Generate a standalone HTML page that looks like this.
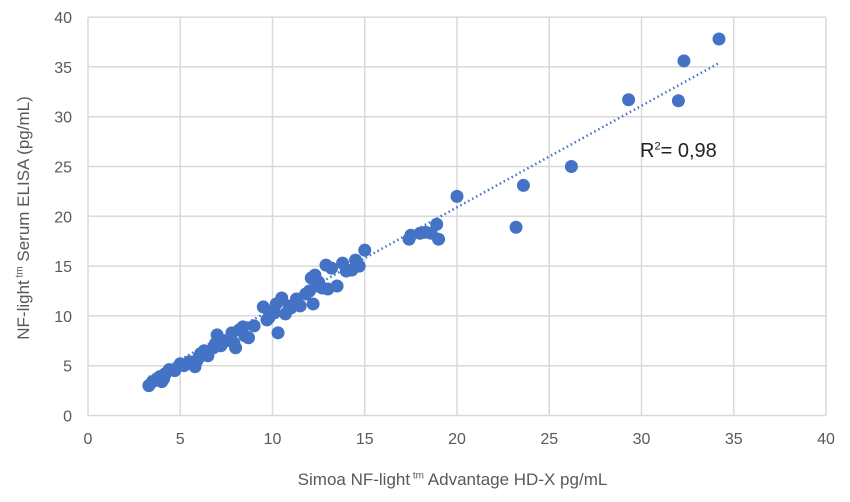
<!DOCTYPE html>
<html><head><meta charset="utf-8"><style>
body{margin:0;background:#fff;font-family:"Liberation Sans",sans-serif}
svg{display:block}
</style></head><body>
<svg id="c" width="850" height="502"></svg>
<script>
const xTicks=[0,5,10,15,20,25,30,35,40];
const yTicks=[0,5,10,15,20,25,30,35,40];
const xVals=[3.3,3.5,3.7,3.9,4.0,4.2,4.4,4.7,5.0,5.2,5.5,5.8,6.0,6.1,6.3,6.5,6.8,7.0,7.2,7.5,7.8,8.0,8.2,8.5,8.7,9.0,9.5,9.8,10.0,10.2,10.3,10.5,10.7,10.9,11.0,11.3,11.5,11.8,12.0,12.2,12.3,12.5,12.7,12.9,13.0,13.2,13.5,13.8,14.0,14.3,14.5,14.7,15.0,17.4,17.5,18.0,18.3,18.6,18.9,19.0,20.0,23.2,23.6,26.2,29.3,32.0,32.3,34.2,4.1,5.9,7.9,9.7,12.4,12.1,10.1,6.9,8.4];
const yVals=[3.0,3.4,3.6,3.9,3.4,4.2,4.6,4.5,5.2,5.0,5.4,4.9,5.8,6.2,6.5,6.0,6.8,8.1,7.0,7.5,8.3,6.8,8.6,8.0,7.8,9.0,10.9,9.8,10.5,11.2,8.3,11.8,10.2,11.0,10.8,11.7,11.0,12.2,12.5,11.2,14.1,13.4,12.8,15.1,12.7,14.8,13.0,15.3,14.5,14.6,15.6,15.0,16.6,17.7,18.1,18.3,18.4,18.3,19.2,17.7,22.0,18.9,23.1,25.0,31.7,31.6,35.6,37.8,3.7,5.5,7.3,9.6,13.0,13.8,10.3,7.2,8.9];
const X0=88,PX=18.45,Y0=415.5,PY=9.96;
const sx=v=>X0+v*PX, sy=v=>Y0-v*PY;
const s=document.getElementById('c'),NS='http://www.w3.org/2000/svg';
function mk(t,a,p){const e=document.createElementNS(NS,t);for(const k in a)e.setAttribute(k,a[k]);(p||s).appendChild(e);return e;}
xTicks.forEach(v=>{const l=mk('line',{x1:sx(v),x2:sx(v),y1:sy(40),y2:sy(0),stroke:'#d9d9d9','stroke-width':1.5});


const t=mk('text',{x:sx(v),y:444,'text-anchor':'middle','font-size':16,fill:'#595959'});t.textContent=v;

});
yTicks.forEach(v=>{const l=mk('line',{x1:sx(0),x2:sx(40),y1:sy(v),y2:sy(v),stroke:'#d9d9d9','stroke-width':1.5});


const t=mk('text',{x:72,y:sy(v)+6,'text-anchor':'end','font-size':16,fill:'#595959'});t.textContent=v;

});
xVals.forEach((x,i)=>{const c=mk('circle',{cx:sx(x),cy:sy(yVals[i]),r:6.5,fill:'#4472c4'});

});
const tl=mk('line',{x1:sx(3.3),y1:sy(1.02*3.3+0.5),x2:sx(34.2),y2:sy(1.02*34.2+0.5),stroke:'#4472c4','stroke-width':2.5,'stroke-dasharray':'1.5 3'});


</script>
<div style="position:absolute;left:640px;top:140px;font-size:20px;color:#222">R<sup style="font-size:11px">2</sup>= 0,98</div>
<div style="position:absolute;left:0;width:905px;text-align:center;top:470px;font-size:17px;color:#595959">Simoa NF-light<sup style="font-size:10px"> tm</sup> Advantage HD-X pg/mL</div>
<div style="position:absolute;left:24px;top:218px;width:0;height:0"><div style="position:absolute;transform:translate(-50%,-50%) rotate(-90deg);white-space:nowrap;font-size:17px;color:#595959">NF-light<sup style="font-size:10px"> tm</sup> Serum ELISA (pg/mL)</div></div>
</body></html>
